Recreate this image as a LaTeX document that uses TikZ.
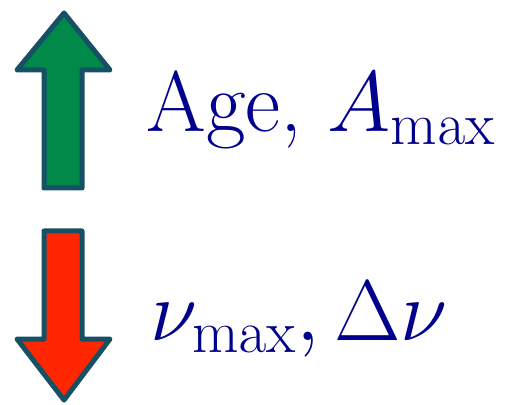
\documentclass[tikz,border=0pt]{standalone}
\usepackage{fix-cm}
\usepackage{xcolor}
\definecolor{arrowedge}{RGB}{22,80,100}
\definecolor{upgreen}{RGB}{0,137,72}
\definecolor{downred}{RGB}{255,38,0}
\definecolor{labelnavy}{RGB}{0,0,140}

\begin{document}
\begin{tikzpicture}[x=0.5pt,y=-0.5pt]
  \tikzset{
    bigarrow/.style={draw=arrowedge,line width=2.5pt,line join=round},
    biglabel/.style={anchor=base west,inner sep=0pt,text=labelnavy,
      font=\fontsize{43}{50}\selectfont}
  }
  \useasboundingbox (0,0) rectangle (507,405);

  % ── UP ARROW (green) ──────────────────────────────────────────────────────
  \filldraw[bigarrow,fill=upgreen]
    (64,13) -- (110,70) -- (82,70) -- (82,188) -- (44,188) -- (44,70) -- (17,70) -- cycle;

  % ── DOWN ARROW (red) ──────────────────────────────────────────────────────
  \filldraw[bigarrow,fill=downred]
    (44,231) -- (82,231) -- (82,339) -- (110,339) -- (64,400) -- (17,339) -- (44,339) -- cycle;

  % ── LABELS ─────────────────────────────────────────────────────────────────
  \node[biglabel] (agelabel) at (146,132) {Age, $A_{\max}$};
  \node[biglabel] (nulabel) at (150,340) {$\nu_{\max}, \Delta\nu$};

\end{tikzpicture}
\end{document}
